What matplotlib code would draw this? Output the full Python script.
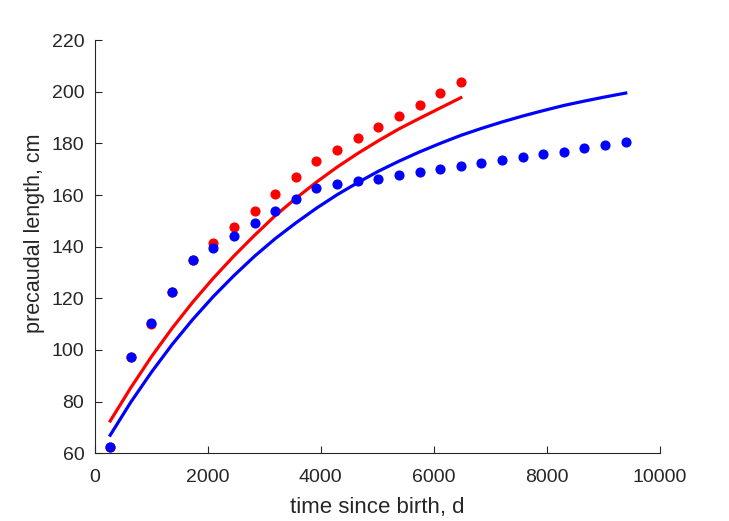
import numpy as np
import matplotlib.pyplot as plt

plt.rcParams['font.family'] = ['Liberation Sans', 'DejaVu Sans']

# tiempo (dias) de cada medida, una por año
t_red = [273, 638, 1003, 1368, 1733, 2098, 2463, 2828, 3193, 3558, 3923, 4288,
         4653, 5018, 5383, 5748, 6113, 6478]
t_blue = t_red + [6843, 7208, 7573, 7938, 8303, 8668, 9033, 9398]

# datos (puntos)
red_obs = [62.4, 97.4, 110.0, 122.5, 135.0, 141.5, 147.7, 154.0, 160.5, 166.8,
           173.1, 177.5, 182.0, 186.2, 190.6, 195.0, 199.5, 203.9]
blue_obs = [62.4, 97.4, 110.5, 122.5, 135.0, 139.6, 144.3, 149.0, 153.8, 158.3,
            162.9, 164.2, 165.4, 166.4, 167.7, 168.9, 169.9, 171.2, 172.3, 173.4,
            174.7, 175.8, 176.8, 178.1, 179.3, 180.5]

# curvas ajustadas
red_fit = [72.5, 85.4, 97.4, 108.4, 118.5, 127.8, 136.4, 144.4, 152.0, 158.7,
           165.0, 170.8, 176.1, 181.0, 185.6, 189.7, 193.7, 197.7]
blue_fit = [67.0, 79.8, 91.4, 102.1, 111.8, 120.7, 128.8, 136.3, 143.1, 149.2,
            154.9, 160.1, 164.8, 169.2, 173.1, 176.7, 180.0, 183.1, 185.8, 188.3,
            190.6, 192.7, 194.7, 196.4, 198.0, 199.5]

fig = plt.figure(figsize=(7.29, 5.21), dpi=100)
ax = fig.add_axes([0.13, 0.13, 0.775, 0.793])

ax.plot(t_red, red_fit, color=(1, 0, 0), linewidth=2.3)
ax.plot(t_red, red_obs, 'o', color=(1, 0, 0), markersize=6.3)
ax.plot(t_blue, blue_fit, color=(0, 0, 1), linewidth=2.3)
ax.plot(t_blue, blue_obs, 'o', color=(0, 0, 1), markersize=6.3)

ax.set_xlim(0, 10000)
ax.set_ylim(60, 220)
ax.set_xticks([0, 2000, 4000, 6000, 8000, 10000])
ax.set_yticks(np.arange(60, 221, 20))

for s in ['top', 'right']:
    ax.spines[s].set_visible(False)
for s in ['left', 'bottom']:
    ax.spines[s].set_color('#262626')
    ax.spines[s].set_linewidth(0.8)
ax.tick_params(direction='in', length=5, width=0.8, colors='#262626', labelsize=14)
ax.tick_params(axis='x', pad=11.5)
ax.tick_params(axis='y', pad=7.5)

ax.set_xlabel('time since birth, d', fontsize=16, color='#262626', labelpad=8)
ax.set_ylabel('precaudal length, cm', fontsize=15.5, color='#262626')
ax.yaxis.set_label_coords(-0.088, 0.533)

fig.savefig('out.png', dpi=100)
